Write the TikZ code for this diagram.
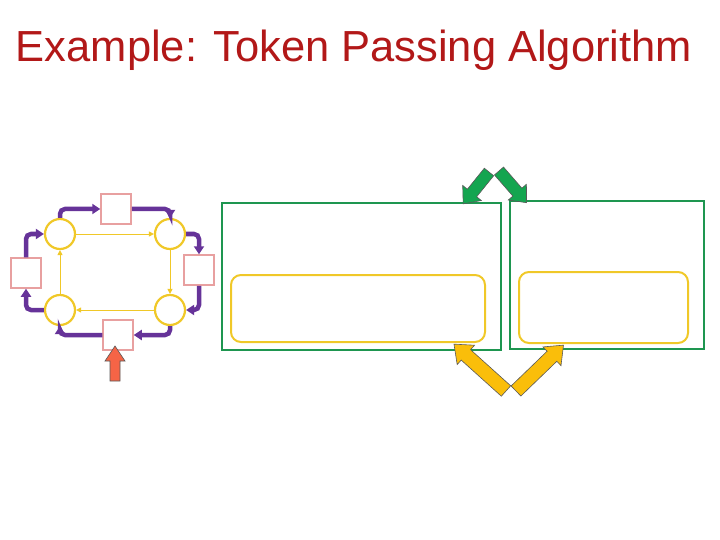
\documentclass[tikz,border=0pt]{standalone}
\usepackage{fontspec}
\setmainfont{Liberation Sans}
\usetikzlibrary{arrows.meta}
\definecolor{ttl}{RGB}{178,24,24}
\definecolor{pur}{RGB}{102,51,153}
\definecolor{yel}{RGB}{240,200,40}
\definecolor{pnk}{RGB}{232,160,160}
\definecolor{grn}{RGB}{30,150,80}
\definecolor{agrn}{RGB}{20,165,80}
\definecolor{ayel}{RGB}{250,190,10}
\definecolor{ared}{RGB}{245,100,70}
\newcommand\barrow[8]{%
\begin{scope}[shift={(#1,#2)},rotate=#3]
\filldraw[fill=#5,draw=gray!70!black,line width=0.6pt] (0,-#6/2)--(#4-#8,-#6/2)--(#4-#8,-#7/2)--(#4,0)--(#4-#8,#7/2)--(#4-#8,#6/2)--(0,#6/2)--cycle;
\end{scope}}
\begin{document}
\begin{tikzpicture}[x=1pt,y=-1pt,
 circ/.style={circle,draw=yel,line width=2.2pt,minimum size=30pt,inner sep=0pt},
 sq/.style={rectangle,draw=pnk,line width=1.5pt,minimum size=30pt,inner sep=0pt},
 ring/.style={draw=pur,line width=4.5pt,-{Triangle[length=8pt,width=10pt]},rounded corners=5pt},
 flow/.style={draw=yel,line width=1pt,-{Triangle[length=5pt,width=5pt]}},
 gbox/.style={draw=grn,line width=1.5pt},
 ybox/.style={draw=yel,line width=2pt,rounded corners=10pt}]
\useasboundingbox (0,0) rectangle (720,540);
\node[text=ttl,font=\fontsize{43.5}{46}\selectfont] (title) at (354,50) {Example: Token Passing Algorithm};
\node[circ] (c1) at (60,234) {};
\node[circ] (c2) at (170,234) {};
\node[circ] (c3) at (170,310) {};
\node[circ] (c4) at (60,310) {};
\node[sq] (s1) at (116,209) {};
\node[sq] (s2) at (199,270) {};
\node[sq] (s3) at (118,335) {};
\node[sq] (s4) at (26,273) {};
\draw[flow] (c1.east) -- (c2.west);
\draw[flow] (c2.south) -- (c3.north);
\draw[flow] (c3.west) -- (c4.east);
\draw[flow] (c4.north) -- (c1.south);
\draw[ring] (c1.north) |- (s1.west);
\draw[ring] (s1.east) -| (c2.north);
\draw[ring] (c2.east) -| (s2.north);
\draw[ring] (s2.south) |- (c3.east);
\draw[ring] (c3.south) |- (s3.east);
\draw[ring] (s3.west) -| (c4.south);
\draw[ring] (c4.west) -| (s4.south);
\draw[ring] (s4.north) |- (c1.west);
\node[gbox,minimum width=279pt,minimum height=147pt] (g1) at (361.5,276.5) {};
\node[gbox,minimum width=194pt,minimum height=148pt] (g2) at (607,275) {};
\node[ybox,minimum width=254pt,minimum height=67pt] (y1) at (358,308.5) {};
\node[ybox,minimum width=169pt,minimum height=71pt] (y2) at (603.5,307.5) {};
\barrow{115}{381}{90}{35}{ared}{10}{20}{15}
\barrow{489}{172}{-129}{41}{agrn}{12}{24}{14}
\barrow{499}{171}{-49}{42}{agrn}{12}{24}{14}
\barrow{506}{391}{-222}{70}{ayel}{14}{26}{16}
\barrow{516}{391}{44}{66}{ayel}{14}{26}{16}
\end{tikzpicture}
\end{document}
